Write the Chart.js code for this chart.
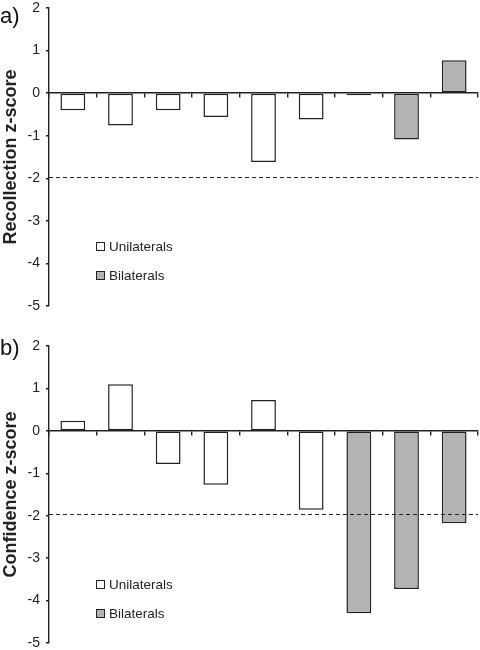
<!DOCTYPE html>
<html>
<head>
<meta charset="utf-8">
<script src="https://cdn.jsdelivr.net/npm/chart.js@4.4.0/dist/chart.umd.min.js"></script>
<style>
  body { margin: 0; background: #fff; width: 480px; height: 650px; position: relative; overflow: hidden; }
  .box { position: absolute; left: 0; width: 480px; }
  .panel { position: absolute; left: 0; font-family: "Liberation Sans", Arial, sans-serif; font-size: 22px; line-height: 1; color: #111; }
</style>
</head>
<body>
<div class="box" style="top:0;height:320px"><canvas id="recChart"></canvas></div>
<div class="box" style="top:320px;height:330px"><canvas id="confChart"></canvas></div>
<div class="panel" style="top:5px">a)</div>
<div class="panel" style="top:337px">b)</div>
<script>
const patients = ["1", "2", "3", "4", "5", "6", "7", "8", "9"];
const recollection = [-0.40, -0.76, -0.40, -0.56, -1.62, -0.62, -0.05, -1.09, 0.77];
const recollectionGroup = ["U", "U", "U", "U", "U", "U", "U", "B", "B"];
const confidence = [0.24, 1.10, -0.78, -1.27, 0.73, -1.86, -4.30, -3.73, -2.18];
const confidenceGroup = ["U", "U", "U", "U", "U", "U", "B", "B", "B"];
const yTicks = [-5, -4, -3, -2, -1, 0, 1, 2];
const criterion = -1.96;
const legendLabels = ["Unilaterals", "Bilaterals"];

const INK = "#222";
const FILLS = { U: "#ffffff", B: "#b3b3b3" };
const FONT = '"Liberation Sans", Arial, sans-serif';

// dashed cut-off line + legend drawn inside the plot area
const extrasPlugin = {
  id: "extras",
  afterDatasetsDraw(chart) {
    const { ctx, chartArea, scales } = chart;
    const y = Math.round(scales.y.getPixelForValue(criterion)) + 0.5;
    ctx.save();
    ctx.strokeStyle = INK;
    ctx.lineWidth = 1.2;
    ctx.setLineDash([4, 3]);
    ctx.beginPath();
    ctx.moveTo(chartArea.left, y);
    ctx.lineTo(chartArea.right, y);
    ctx.stroke();
    ctx.setLineDash([]);

    ctx.font = "13.5px " + FONT;
    ctx.textBaseline = "middle";
    ["U", "B"].forEach((g, i) => {
      const sx = chartArea.left + 47;
      const sy = chartArea.top + 234 + i * 29;
      ctx.fillStyle = FILLS[g];
      ctx.fillRect(sx, sy, 9, 9);
      ctx.strokeStyle = INK;
      ctx.lineWidth = 1;
      ctx.strokeRect(sx + 0.5, sy + 0.5, 8, 8);
      ctx.fillStyle = INK;
      ctx.fillText(legendLabels[i], sx + 13, sy + 5);
    });
    ctx.restore();
  },
};

function makeChart(canvasId, values, groups, title, padTop, padBottom) {
  const ctx = document.getElementById(canvasId).getContext("2d");
  return new Chart(ctx, {
    type: "bar",
    data: {
      labels: patients,
      datasets: [
        {
          data: values,
          backgroundColor: groups.map((g) => FILLS[g]),
          borderColor: INK,
          borderWidth: 1.5,
          borderSkipped: false,
          categoryPercentage: 1,
          barPercentage: 0.52,
        },
      ],
    },
    options: {
      responsive: true,
      maintainAspectRatio: false,
      animation: false,
      layout: { padding: { top: padTop, bottom: padBottom, left: 0, right: 2 } },
      plugins: { legend: { display: false }, tooltip: { enabled: false } },
      scales: {
        x: {
          position: { y: 0 },
          grid: { offset: true, drawOnChartArea: false, drawTicks: true, tickLength: 4, color: INK, lineWidth: 1.4 },
          border: { display: true, color: INK, width: 1.4 },
          ticks: { display: false },
          afterFit: (scale) => {
            scale.paddingLeft = 0;
            scale.paddingRight = 0;
          },
        },
        y: {
          min: -5,
          max: 2,
          afterBuildTicks: (scale) => {
            scale.ticks = yTicks.map((v) => ({ value: v }));
          },
          afterFit: (scale) => {
            scale.width = 49;
            scale.paddingTop = 0;
            scale.paddingBottom = 0;
          },
          grid: { drawOnChartArea: false, drawTicks: true, tickLength: 3, color: INK, lineWidth: 1.4 },
          border: { display: true, color: INK, width: 1.4 },
          ticks: { padding: 6, color: INK, font: { family: FONT, size: 14 } },
          title: {
            display: true,
            text: title,
            color: INK,
            padding: { top: 0, bottom: 0 },
            font: { family: FONT, size: 18, weight: "bold" },
          },
        },
      },
    },
    plugins: [extrasPlugin],
  });
}

makeChart("recChart", recollection, recollectionGroup, "Recollection z-score", 8, 14);
makeChart("confChart", confidence, confidenceGroup, "Confidence z-score", 26, 7);
</script>
</body>
</html>
